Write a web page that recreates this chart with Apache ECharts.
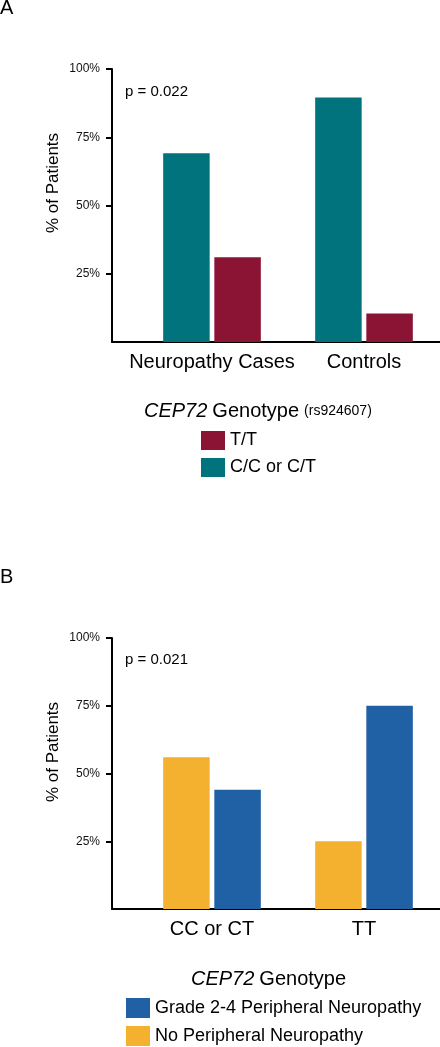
<!DOCTYPE html>
<html>
<head>
<meta charset="utf-8">
<script src="https://cdn.jsdelivr.net/npm/echarts@6/dist/echarts.min.js"></script>
<style>
html,body{margin:0;padding:0;background:#fff;}
#chart{width:440px;height:1047px;}
</style>
</head>
<body>
<div id="chart"></div>
<script>
// ---- Data ----
const categoriesA = ['Neuropathy Cases', 'Controls'];
const ccOrCtA = [69.1, 89.6];      // C/C or C/T
const ttA = [31.0, 10.4];          // T/T
const categoriesB = ['CC or CT', 'TT'];
const noNeuropathyB = [56.0, 25.0];   // No Peripheral Neuropathy
const grade24B = [44.0, 75.0];        // Grade 2-4 Peripheral Neuropathy
const yTicks = [25, 50, 75, 100];
const pValueA = 'p = 0.022';
const pValueB = 'p = 0.021';

const FONT = '"Liberation Sans", Arial, Helvetica, sans-serif';
const TEAL = '#00737C', RED = '#8B1434', YELLOW = '#F4B12F', BLUE = '#2060A4';

const chart = echarts.init(document.getElementById('chart'), null, {renderer: 'canvas'});

function axesGrid(idx) {
  return {
    x: {
      gridIndex: idx, type: 'value', min: 0, max: 1,
      axisLine: {show: true, lineStyle: {color: '#000', width: 2}},
      axisTick: {show: false}, axisLabel: {show: false}, splitLine: {show: false}
    },
    y: {
      gridIndex: idx, type: 'value', min: 0, max: 100, interval: 25,
      axisLine: {show: true, lineStyle: {color: '#000', width: 2}},
      axisTick: {show: true, length: 6, customValues: yTicks, lineStyle: {color: '#000', width: 2}},
      axisLabel: {
        customValues: yTicks, margin: 12, fontSize: 12, fontFamily: FONT, color: '#111',
        formatter: v => v + '%'
      },
      splitLine: {show: false}
    }
  };
}
function barGrid(idx, cats) {
  return {
    x: {
      gridIndex: idx, type: 'category', data: cats,
      axisLine: {show: false}, axisTick: {show: false},
      axisLabel: {margin: 10, fontSize: 20, fontFamily: FONT, color: '#000', interval: 0}
    },
    y: {gridIndex: idx, type: 'value', min: 0, max: 100, show: false}
  };
}
const gA0 = axesGrid(0), gA1 = barGrid(1, categoriesA), gB0 = axesGrid(2), gB1 = barGrid(3, categoriesB);

const option = {
  backgroundColor: '#fff',
  animation: false,
  textStyle: {fontFamily: FONT},
  grid: [
    {left: 112, top: 69, width: 329, height: 273},
    {left: 136, top: 69, width: 305, height: 273},
    {left: 112, top: 638, width: 329, height: 271},
    {left: 136, top: 638, width: 305, height: 271}
  ],
  xAxis: [gA0.x, gA1.x, gB0.x, gB1.x],
  yAxis: [gA0.y, gA1.y, gB0.y, gB1.y],
  title: [
    {text: 'A', left: 0, top: -2, padding: 0, textStyle: {fontSize: 20, fontWeight: 'normal', color: '#000', fontFamily: FONT}},
    {text: 'B', left: 0, top: 567, padding: 0, textStyle: {fontSize: 20, fontWeight: 'normal', color: '#000', fontFamily: FONT}},
    {text: pValueA, left: 125, top: 84, padding: 0, textStyle: {fontSize: 15, fontWeight: 'normal', color: '#000', fontFamily: FONT}},
    {text: pValueB, left: 125, top: 652, padding: 0, textStyle: {fontSize: 15, fontWeight: 'normal', color: '#000', fontFamily: FONT}},
    {
      text: '{i|CEP72} {n|Genotype} {s|(rs924607)}', left: 144, top: 400, padding: 0,
      textStyle: {
        fontWeight: 'normal', color: '#000', fontFamily: FONT,
        rich: {
          i: {fontSize: 20, fontStyle: 'italic', fontFamily: FONT, color: '#000', lineHeight: 22},
          n: {fontSize: 20, fontFamily: FONT, color: '#000', lineHeight: 22},
          s: {fontSize: 14, fontFamily: FONT, color: '#000', lineHeight: 22}
        }
      }
    },
    {
      text: '{i|CEP72} {n|Genotype}', left: 191, top: 968, padding: 0,
      textStyle: {
        fontWeight: 'normal', color: '#000', fontFamily: FONT,
        rich: {
          i: {fontSize: 20, fontStyle: 'italic', fontFamily: FONT, color: '#000', lineHeight: 22},
          n: {fontSize: 20, fontFamily: FONT, color: '#000', lineHeight: 22}
        }
      }
    }
  ],
  legend: [
    {
      data: ['T/T', 'C/C or C/T'], orient: 'vertical', left: 201, top: 431, padding: 0,
      itemWidth: 24, itemHeight: 19, itemGap: 8, icon: 'rect', selectedMode: false,
      textStyle: {fontSize: 18, color: '#000', fontFamily: FONT}
    },
    {
      data: ['Grade 2-4 Peripheral Neuropathy', 'No Peripheral Neuropathy'], orient: 'vertical', left: 126, top: 998, padding: 0,
      itemWidth: 24, itemHeight: 20, itemGap: 8, icon: 'rect', selectedMode: false,
      textStyle: {fontSize: 18, color: '#000', fontFamily: FONT}
    }
  ],
  graphic: [
    {type: 'text', x: 53, y: 183, rotation: Math.PI / 2,
     style: {text: '% of Patients', fontSize: 17, fontFamily: FONT, fill: '#000', align: 'center', verticalAlign: 'middle'}},
    {type: 'text', x: 53, y: 752, rotation: Math.PI / 2,
     style: {text: '% of Patients', fontSize: 17, fontFamily: FONT, fill: '#000', align: 'center', verticalAlign: 'middle'}}
  ],
  series: [
    {name: 'C/C or C/T', type: 'bar', xAxisIndex: 1, yAxisIndex: 1, data: ccOrCtA, barWidth: 46.5, barGap: '10%', itemStyle: {color: TEAL}},
    {name: 'T/T', type: 'bar', xAxisIndex: 1, yAxisIndex: 1, data: ttA, barWidth: 46.5, barGap: '10%', itemStyle: {color: RED}},
    {name: 'No Peripheral Neuropathy', type: 'bar', xAxisIndex: 3, yAxisIndex: 3, data: noNeuropathyB, barWidth: 46.5, barGap: '10%', itemStyle: {color: YELLOW}},
    {name: 'Grade 2-4 Peripheral Neuropathy', type: 'bar', xAxisIndex: 3, yAxisIndex: 3, data: grade24B, barWidth: 46.5, barGap: '10%', itemStyle: {color: BLUE}}
  ]
};
chart.setOption(option);
</script>
</body>
</html>
